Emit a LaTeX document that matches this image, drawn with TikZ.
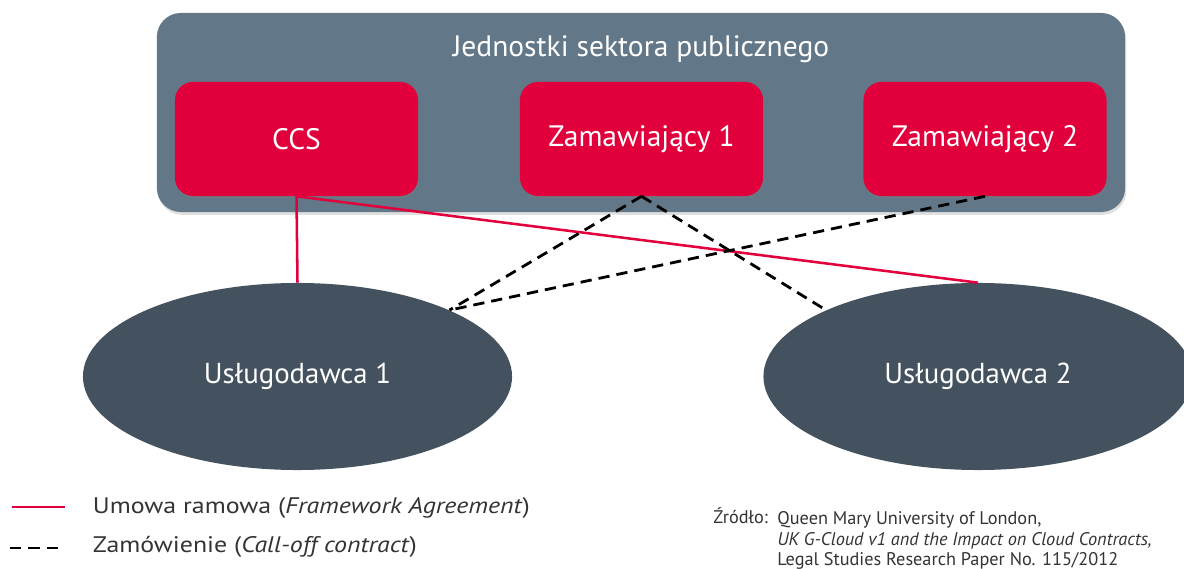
\documentclass[tikz,border=0pt]{standalone}
\usepackage{fontspec}
\setmainfont{PT Sans}
\newfontfamily\legendfont[FakeStretch=1.15]{PT Sans}
\usepackage{tikz}
\usetikzlibrary{shapes.geometric, positioning, shadows}
\definecolor{slate}{RGB}{98, 119, 135}
\definecolor{crimson}{RGB}{226, 0, 60}
\definecolor{darkslate}{RGB}{68, 82, 95}
\definecolor{gray20}{gray}{0.2}

\tikzset{
  sector/.style={rectangle, rounded corners=0.6cm, fill=slate, minimum width=24.2cm, minimum height=4.975cm,
    drop shadow={opacity=0.25, shadow xshift=0.03cm, shadow yshift=-0.07cm}},
  buyer/.style={rectangle, rounded corners=0.45cm, fill=crimson, text=white, minimum width=6.075cm,
    minimum height=2.85cm, font=\fontsize{21}{24}\selectfont,
    drop shadow={opacity=0.3, shadow xshift=0.02cm, shadow yshift=-0.06cm}},
  provider/.style={ellipse, fill=darkslate, text=white, inner sep=0, minimum width=10.725cm,
    minimum height=4.675cm, font=\fontsize{20.5}{24}\selectfont},
  framework/.style={crimson, line width=1.8pt},
  calloff/.style={black, line width=2pt, dash pattern=on 8pt off 5pt},
  legend/.style={gray20, font=\legendfont\fontsize{16}{19}\selectfont},
  source/.style={gray20, inner sep=0, font=\fontsize{13}{14.8}\selectfont}
}

\begin{document}
\begin{tikzpicture}[x=0.025cm, y=-0.025cm]
  \useasboundingbox (0, 0) rectangle (1184, 569);

  \node[sector] (publiczny) at (641, 112.5) {};
  \node[white, font=\fontsize{21}{24}\selectfont] (tytul) at (641, 49) { Jednostki sektora publicznego };

  \node[buyer] (ccs) at (296.5, 139) { CCS };
  \node[buyer] (zam1) at (641.5, 139) { Zamawiający 1 };
  \node[buyer] (zam2) at (985, 139) { Zamawiający 2 };

  \node[provider] (usl1) at (297.5, 376.5) { Usługodawca 1 };
  \node[provider] (usl2) at (978, 376.5) { Usługodawca 2 };

  \draw[framework] (ccs.south) -- (usl1.north);
  \draw[framework] (ccs.south) -- (usl2.north);

  \draw[calloff] (zam1.south) -- (usl1.north east);
  \draw[calloff] (zam1.south) -- (usl2.north west);
  \draw[calloff] (zam2.south) -- (usl1.north east);

  \coordinate (ramowaA) at (12, 507);
  \coordinate (ramowaB) at (65, 507);
  \draw[framework] (ramowaA) -- (ramowaB);
  \node[legend, anchor=west] (ramowa) at (88, 508) { Umowa ramowa (\textit{Framework Agreement}) };

  \coordinate (zamowienieA) at (10, 548);
  \coordinate (zamowienieB) at (63, 548);
  \draw[calloff] (zamowienieA) -- (zamowienieB);
  \node[legend, anchor=west] (zamowienie) at (88, 547) { Zamówienie (\textit{Call-off contract}) };

  \node[source, anchor=base west] (zrodlo) at (713, 524) { Źródło: };
  \node[source, anchor=north west, align=left] (praca) at (777, 511) { Queen Mary University of London,\\
    \textit{UK G-Cloud v1 and the Impact on Cloud Contracts,}\\
    Legal Studies Research Paper No. 115/2012 };
\end{tikzpicture}
\end{document}
